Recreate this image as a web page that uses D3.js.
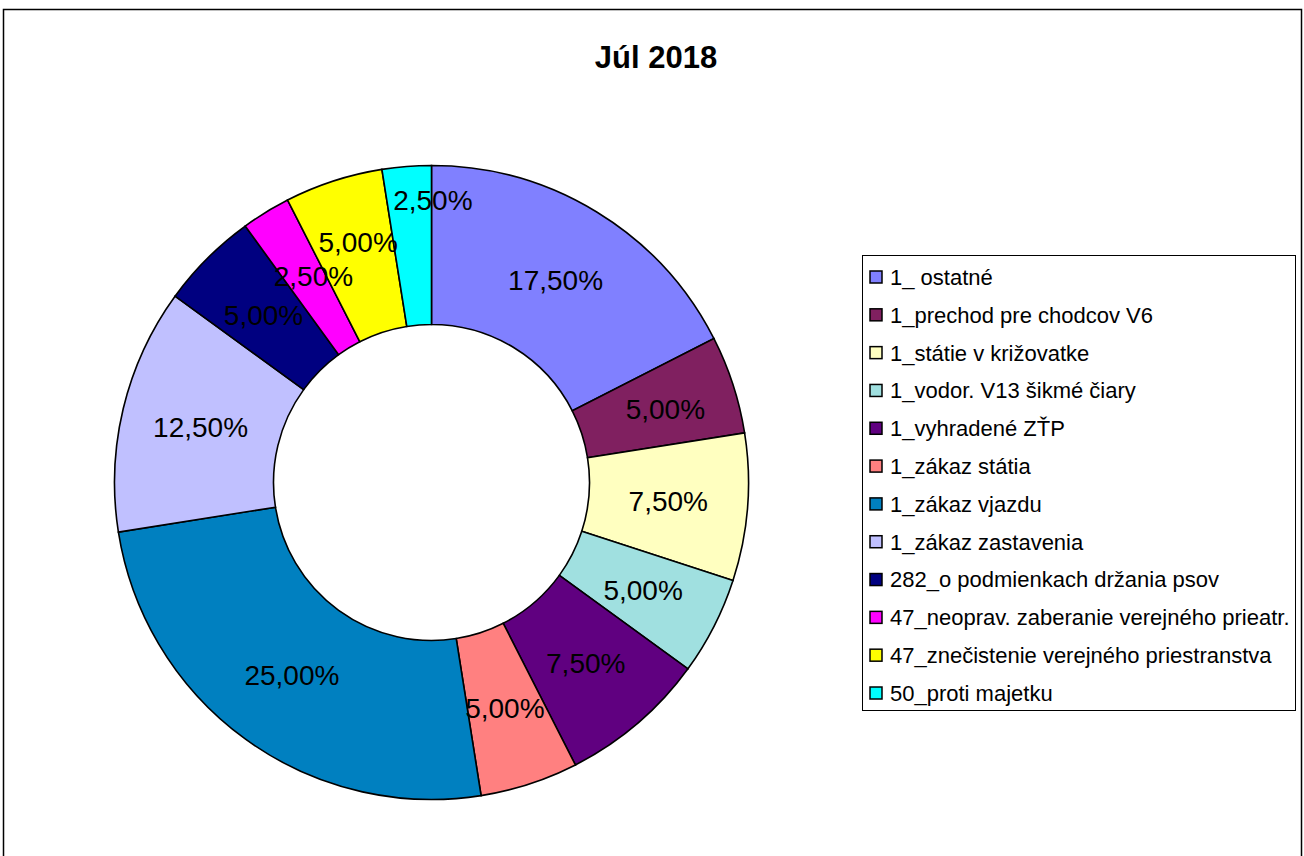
<!DOCTYPE html>
<html>
<head>
  <meta charset="utf-8">
  <title>Júl 2018</title>
  <script src="https://cdn.jsdelivr.net/npm/d3@7/dist/d3.min.js"></script>
  <style>
    body { margin: 0; background: #fff; }
    svg { display: block; font-family: "Liberation Sans", Arial, sans-serif; }
    .slice { stroke: #000; stroke-width: 1.6; }
    .pct { font-size: 28px; fill: #000; text-anchor: middle; }
    .legend text { font-size: 22px; fill: #000; }
    .legend rect.sw { stroke: #000; stroke-width: 1.5; }
  </style>
</head>
<body>
<script>

  var categories = [
    "1_ ostatné",
    "1_prechod pre chodcov V6",
    "1_státie v križovatke",
    "1_vodor. V13 šikmé čiary",
    "1_vyhradené ZŤP",
    "1_zákaz státia",
    "1_zákaz vjazdu",
    "1_zákaz zastavenia",
    "282_o podmienkach držania psov",
    "47_neoprav. zaberanie verejného prieatr.",
    "47_znečistenie verejného priestranstva",
    "50_proti majetku"
  ];

  var shares = [17.5, 5, 7.5, 5, 7.5, 5, 25, 12.5, 5, 2.5, 5, 2.5];

  var colors = ["#8080FF", "#802060", "#FFFFC0", "#A0E0E0", "#600080", "#FF8080",
                "#0080C0", "#C0C0FF", "#000080", "#FF00FF", "#FFFF00", "#00FFFF"];

  // Excel pushed a couple of small labels out of the way
  var labelNudge = [[0, 0], [8, 0], [0, 0], [0, 0], [0, 0], [0, 0],
                    [0, 0], [0, 0], [0, 0], [6, -4], [0, -15], [20, -46]];

  var title = "Júl 2018";

  var W = 1304, H = 856;
  var cx = 431.5, cy = 482.5, outerR = 317, innerR = 158;

  var svg = d3.select("body").append("svg")
      .attr("width", W)
      .attr("height", H);

  // chart frame (bottom edge runs off the picture)
  svg.append("rect")
      .attr("x", 3.5)
      .attr("y", 9.5)
      .attr("width", 1298)
      .attr("height", 900)
      .attr("fill", "none")
      .attr("stroke", "#000")
      .attr("stroke-width", 1.5);

  svg.append("text")
      .attr("x", 656)
      .attr("y", 68)
      .attr("text-anchor", "middle")
      .style("font-size", "31px")
      .style("font-weight", "bold")
      .text(title);

  var pie = d3.pie().sort(null).value(function (d) { return d; });
  var arcs = pie(shares);

  var arc = d3.arc().innerRadius(innerR).outerRadius(outerR);
  var labelArc = d3.arc().innerRadius((innerR + outerR) / 2).outerRadius((innerR + outerR) / 2);

  var g = svg.append("g").attr("transform", "translate(" + cx + "," + cy + ")");

  g.selectAll("path.slice")
      .data(arcs)
      .enter().append("path")
      .attr("class", "slice")
      .attr("fill", function (d, i) { return colors[i]; })
      .attr("d", arc);

  g.selectAll("text.pct")
      .data(arcs)
      .enter().append("text")
      .attr("class", "pct")
      .attr("transform", function (d, i) {
        var c = labelArc.centroid(d);
        return "translate(" + (c[0] + labelNudge[i][0]) + "," + (c[1] + labelNudge[i][1]) + ")";
      })
      .attr("dy", "0.36em")
      .text(function (d) { return d3.format(".2f")(d.data).replace(".", ",") + "%"; });

  // legend
  var legend = svg.append("g").attr("class", "legend");

  legend.append("rect")
      .attr("x", 862.5)
      .attr("y", 255.5)
      .attr("width", 433)
      .attr("height", 455)
      .attr("fill", "#fff")
      .attr("stroke", "#000")
      .attr("stroke-width", 1);

  var rowY = d3.scalePoint().domain(d3.range(categories.length)).range([277, 693]);

  var item = legend.selectAll("g.item")
      .data(categories)
      .enter().append("g")
      .attr("class", "item")
      .attr("transform", function (d, i) { return "translate(0," + rowY(i) + ")"; });

  item.append("rect")
      .attr("class", "sw")
      .attr("x", 870)
      .attr("y", -6)
      .attr("width", 12)
      .attr("height", 12)
      .attr("fill", function (d, i) { return colors[i]; });

  item.append("text")
      .attr("x", 890)
      .attr("dy", "0.36em")
      .text(function (d) { return d; });

</script>
</body>
</html>
